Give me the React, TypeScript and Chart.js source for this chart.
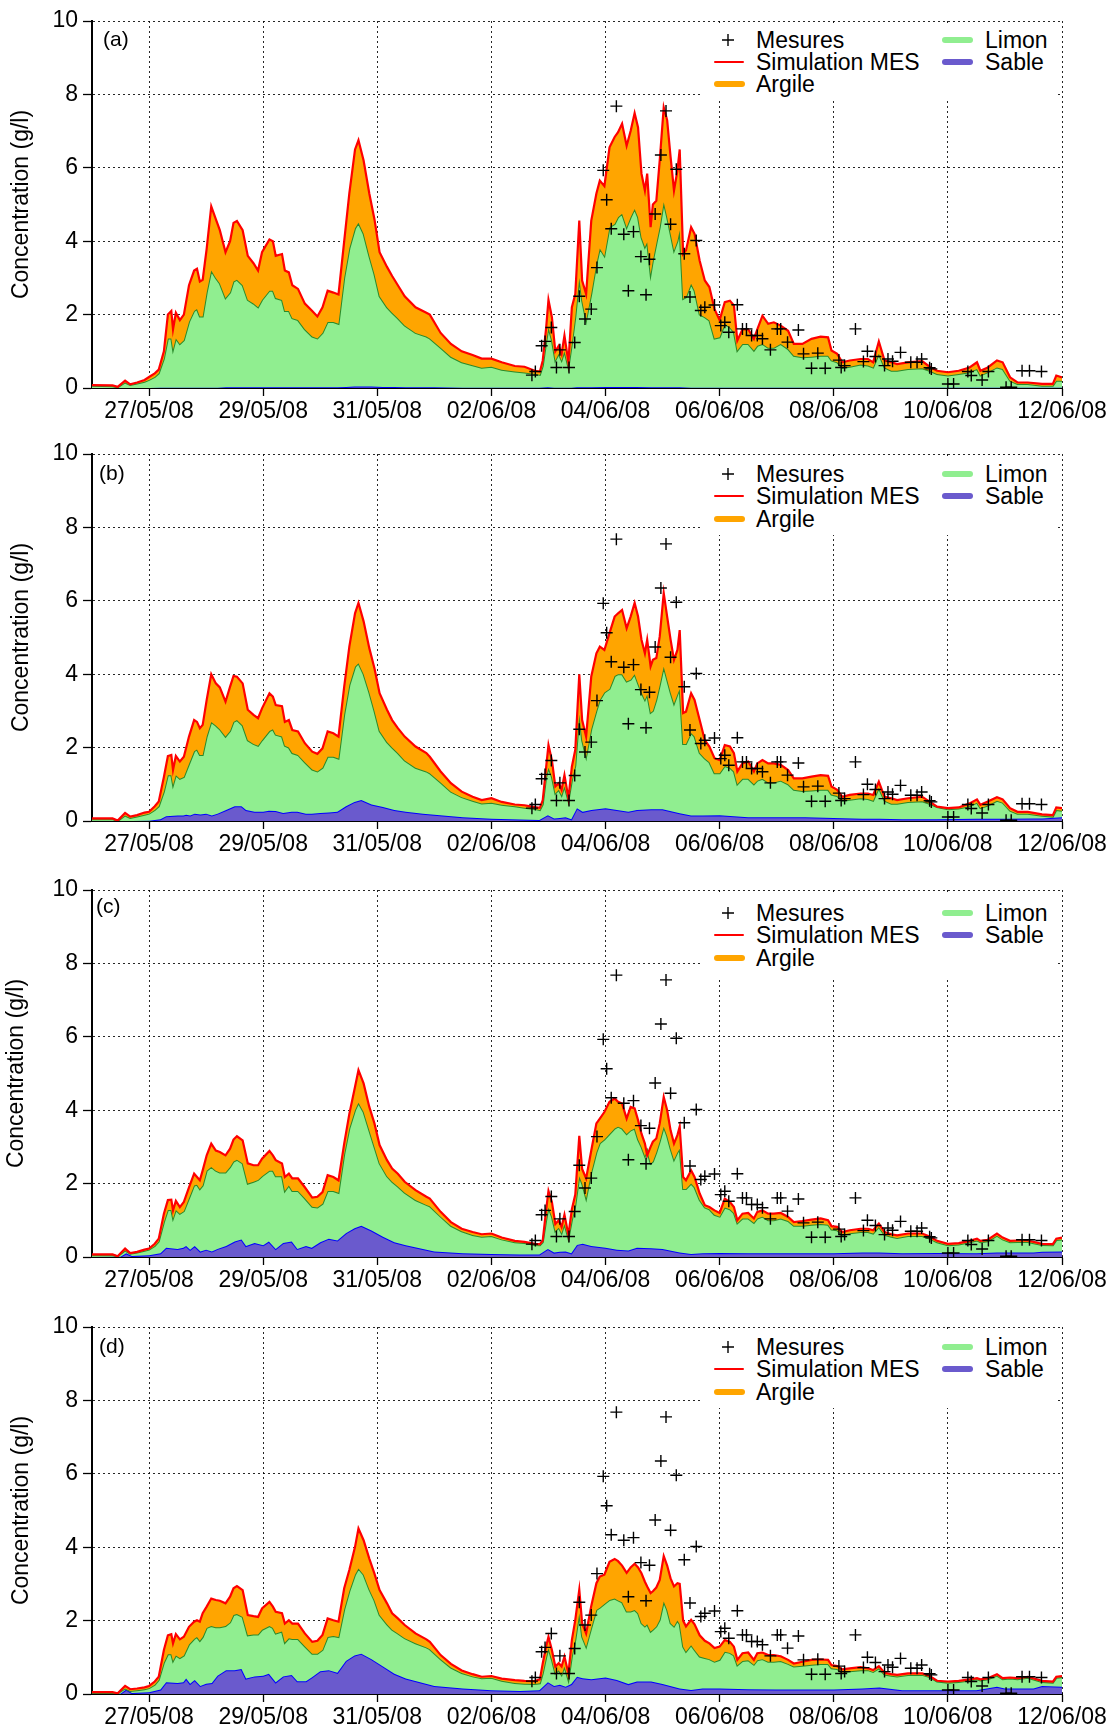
import React, { useEffect, useRef } from "react";
import { Chart, registerables } from "chart.js";

Chart.register(...registerables);

// ---------- axis data ----------
// x values are days since 26/05/08 00:00
const tickDays = [1, 3, 5, 7, 9, 11, 13, 15, 17];
const tickLabels = ["27/05/08", "29/05/08", "31/05/08", "02/06/08", "04/06/08", "06/06/08", "08/06/08", "10/06/08", "12/06/08"];
const yTicks = [0, 2, 4, 6, 8, 10];

// ---------- simulation time grid (days since 26/05/08) ----------
const simDays = [
  0, 0.36, 0.45, 0.58, 0.67, 0.79, 0.92, 1.0, 1.1, 1.17,
  1.26, 1.33, 1.39, 1.42, 1.47, 1.54, 1.61, 1.7, 1.79, 1.84,
  1.89, 1.94, 2.01, 2.09, 2.17, 2.24, 2.34, 2.42, 2.48, 2.54,
  2.64, 2.73, 2.83, 2.91, 2.98, 3.11, 3.17, 3.22, 3.33, 3.38,
  3.45, 3.51, 3.61, 3.73, 3.86, 3.95, 4.04, 4.13, 4.23, 4.32,
  4.42, 4.51, 4.61, 4.67, 4.76, 4.86, 4.95, 5.04, 5.17, 5.26,
  5.36, 5.48, 5.67, 5.86, 5.92, 6.11, 6.29, 6.48, 6.67, 6.83,
  7.0, 7.18, 7.41, 7.58, 7.76, 7.85, 7.9, 7.96, 8.0, 8.06,
  8.12, 8.18, 8.23, 8.28, 8.35, 8.41, 8.47, 8.54, 8.59, 8.66,
  8.75, 8.84, 8.9, 8.98, 9.07, 9.16, 9.22, 9.29, 9.37, 9.44,
  9.51, 9.57, 9.63, 9.69, 9.73, 9.79, 9.83, 9.89, 9.95, 10.02,
  10.08, 10.14, 10.2, 10.26, 10.3, 10.36, 10.41, 10.5, 10.56, 10.65,
  10.74, 10.82, 10.91, 11.0, 11.09, 11.18, 11.25, 11.31, 11.4, 11.5,
  11.6, 11.66, 11.75, 11.85, 11.95, 12.07, 12.2, 12.3, 12.45, 12.61,
  12.77, 12.9, 12.96, 13.06, 13.15, 13.28, 13.47, 13.6, 13.69, 13.79,
  13.89, 14.01, 14.11, 14.3, 14.55, 14.68, 14.81, 15.0, 15.19, 15.38,
  15.51, 15.57, 15.7, 15.86, 15.96, 16.09, 16.22, 16.4, 16.65, 16.84,
  16.9, 17.0,
];

// time grid for the (smoother) sand curves
const sableDays = [
  0, 0.5, 0.6, 0.7, 1.0, 1.2, 1.3, 1.5, 1.6, 1.65,
  1.72, 1.8, 1.9, 2.0, 2.1, 2.2, 2.35, 2.5, 2.62, 2.7,
  2.85, 3.0, 3.1, 3.22, 3.35, 3.5, 3.6, 3.75, 3.85, 4.0,
  4.15, 4.3, 4.45, 4.6, 4.72, 4.9, 5.1, 5.3, 5.5, 5.8,
  6.0, 6.5, 7.0, 7.5, 7.84, 7.99, 8.1, 8.2, 8.3, 8.4,
  8.5, 8.6, 8.75, 9.0, 9.2, 9.4, 9.55, 9.8, 10.0, 10.3,
  10.5, 10.7, 11.0, 11.5, 12.0, 12.5, 13.0, 13.5, 13.8, 14.2,
  14.8, 15.5, 15.86, 16.0, 16.5, 16.65, 17.0,
];

// ---------- measurements (same in all panels) ----------
const mesDays = [
  7.71, 7.77, 7.88, 7.94, 8.05, 8.14, 8.2, 8.36, 8.46, 8.54,
  8.64, 8.75, 8.85, 8.96, 9.02, 9.1, 9.19, 9.32, 9.4, 9.49,
  9.62, 9.71, 9.77, 9.87, 9.97, 10.06, 10.14, 10.24, 10.38, 10.48,
  10.59, 10.67, 10.74, 10.91, 11.02, 11.09, 11.16, 11.31, 11.4, 11.47,
  11.56, 11.66, 11.75, 11.89, 12.01, 12.07, 12.19, 12.38, 12.47, 12.61,
  12.72, 12.85, 13.09, 13.13, 13.19, 13.38, 13.52, 13.59, 13.73, 13.89,
  13.95, 14.03, 14.17, 14.35, 14.46, 14.54, 14.68, 14.71, 15.0, 15.1,
  15.35, 15.41, 15.6, 15.71, 16.02, 16.11, 16.3, 16.43, 16.64,
];
const mesValues = [
  0.35, 0.45, 1.15, 1.27, 1.65, 0.56, 1.04, 0.56, 1.24, 2.5,
  1.88, 2.15, 3.28, 5.93, 5.13, 4.34, 7.68, 4.19, 2.65, 4.26,
  3.58, 2.54, 3.51, 4.74, 6.35, 7.55, 4.46, 5.96, 3.66, 2.48,
  4.02, 2.11, 2.2, 2.26, 1.7, 1.79, 1.52, 2.27, 1.61, 1.61,
  1.43, 1.43, 1.34, 1.04, 1.61, 1.61, 1.25, 1.58, 0.93, 0.54,
  0.95, 0.54, 0.76, 0.56, 0.61, 1.61, 0.72, 1.0, 0.86, 0.61,
  0.79, 0.73, 0.97, 0.7, 0.7, 0.79, 0.55, 0.52, 0.11, 0.11,
  0.45, 0.34, 0.22, 0.45, 0.02, 0.02, 0.47, 0.47, 0.45,
];

// ---------- panel (a) ----------
// total simulated MES (red line, top of Argile band)
const totalA = [
  0.08, 0.07, 0.03, 0.2, 0.1, 0.15, 0.22, 0.3, 0.4, 0.5,
  1.0, 2.0, 2.1, 1.6, 2.05, 1.85, 2.0, 2.8, 3.2, 3.25,
  2.9, 2.95, 3.8, 4.95, 4.6, 4.3, 3.7, 4.0, 4.5, 4.55,
  4.3, 3.6, 3.4, 3.2, 3.7, 4.05, 4.0, 3.6, 3.65, 3.2,
  3.15, 2.8, 2.7, 2.3, 2.1, 1.95, 2.2, 2.65, 2.6, 2.55,
  4.0, 5.3, 6.5, 6.75, 6.2, 5.3, 4.6, 3.7, 3.3, 3.05,
  2.8, 2.5, 2.2, 2.05, 2.0, 1.5, 1.2, 1.0, 0.9, 0.8,
  0.8, 0.7, 0.6, 0.58, 0.47, 0.45, 0.75, 1.65, 2.4, 1.93,
  1.0, 1.15, 0.93, 1.43, 0.7, 2.2, 2.56, 4.56, 2.93, 2.56,
  4.56, 5.3, 5.65, 5.5, 6.56, 6.84, 6.97, 7.2, 6.6, 7.0,
  7.49, 7.1, 5.84, 5.38, 5.84, 4.38, 5.0, 5.1, 6.2, 7.65,
  7.3, 6.3, 5.38, 5.93, 6.5, 3.65, 3.75, 4.38, 4.2, 3.47,
  2.93, 2.75, 2.15, 1.85, 2.34, 2.38, 2.25, 1.29, 1.6, 1.6,
  1.34, 1.6, 1.97, 1.75, 1.79, 1.7, 1.56, 1.2, 1.2, 1.34,
  1.4, 1.38, 1.02, 0.93, 0.7, 0.75, 0.79, 0.79, 0.7, 1.27,
  0.75, 0.7, 0.65, 0.7, 0.73, 0.58, 0.47, 0.43, 0.47, 0.56,
  0.7, 0.47, 0.56, 0.75, 0.7, 0.29, 0.15, 0.15, 0.11, 0.11,
  0.34, 0.29,
];
// upper edge of the Limon band (Sable + Limon)
const limonTopA = [
  0.06, 0.05, 0.02, 0.15, 0.08, 0.12, 0.17, 0.22, 0.3, 0.4,
  0.8, 1.35, 1.35, 1.05, 1.35, 1.2, 1.3, 1.8, 2.1, 2.15,
  1.95, 1.95, 2.6, 3.2, 3.0, 2.85, 2.45, 2.6, 2.9, 2.95,
  2.8, 2.4, 2.3, 2.2, 2.4, 2.65, 2.65, 2.45, 2.4, 2.1,
  2.1, 1.9, 1.85, 1.6, 1.4, 1.35, 1.5, 1.8, 1.8, 1.75,
  3.0, 3.8, 4.35, 4.5, 4.2, 3.6, 3.1, 2.5, 2.2, 2.05,
  1.9, 1.7, 1.5, 1.4, 1.35, 1.1, 0.85, 0.7, 0.62, 0.55,
  0.58, 0.5, 0.45, 0.42, 0.38, 0.36, 0.6, 1.25, 1.65, 1.3,
  0.75, 0.93, 0.75, 1.0, 0.56, 1.2, 1.93, 3.0, 2.38, 1.84,
  2.56, 3.38, 3.8, 3.6, 4.38, 4.47, 4.65, 4.75, 4.38, 4.65,
  4.88, 4.65, 4.1, 3.84, 3.97, 3.1, 3.47, 3.93, 4.38, 5.06,
  4.65, 4.2, 3.75, 4.0, 4.3, 2.43, 2.47, 2.84, 2.65, 2.0,
  1.93, 1.84, 1.35, 1.38, 1.75, 1.65, 1.52, 1.02, 1.2, 1.2,
  1.02, 1.15, 1.2, 1.1, 1.1, 1.2, 1.06, 0.88, 0.84, 0.85,
  0.88, 0.88, 0.75, 0.7, 0.55, 0.58, 0.64, 0.61, 0.56, 0.93,
  0.56, 0.47, 0.47, 0.52, 0.54, 0.47, 0.38, 0.34, 0.38, 0.43,
  0.52, 0.34, 0.43, 0.56, 0.52, 0.2, 0.11, 0.11, 0.06, 0.06,
  0.2, 0.2,
];
const sableA = [
  0, 0, 0, 0, 0, 0.01, 0.01, 0.01, 0.01, 0.01,
  0.01, 0.01, 0.01, 0.01, 0.01, 0.01, 0.02, 0.02, 0.02, 0.02,
  0.02, 0.02, 0.02, 0.02, 0.02, 0.02, 0.02, 0.02, 0.02, 0.02,
  0.02, 0.02, 0.03, 0.04, 0.04, 0.04, 0.03, 0.03, 0.02, 0.02,
  0.02, 0.01, 0.01, 0.01, 0.01, 0.02, 0.01, 0.01, 0.01, 0.01,
  0.02, 0.02, 0.02, 0.03, 0.03, 0.03, 0.03, 0.02, 0.02, 0.02,
  0.01, 0.01, 0.01, 0.01, 0.01, 0.01, 0.01, 0.01, 0.01, 0.01,
  0.01, 0.01, 0.01, 0.01, 0.01, 0.01, 0.01,
];

// ---------- panel (b) ----------
const totalB = [
  0.07, 0.07, 0.01, 0.22, 0.12, 0.16, 0.23, 0.25, 0.4, 0.53,
  1.2, 1.77, 1.8, 1.39, 1.77, 1.62, 1.75, 2.3, 2.75, 2.7,
  2.53, 2.62, 3.3, 4.0, 3.75, 3.64, 3.25, 3.66, 3.95, 3.93,
  3.75, 3.03, 2.89, 2.8, 3.07, 3.48, 3.39, 3.16, 3.13, 2.7,
  2.75, 2.48, 2.44, 2.12, 1.89, 1.83, 1.98, 2.44, 2.39, 2.3,
  3.66, 4.75, 5.66, 5.94, 5.44, 4.71, 4.16, 3.48, 3.03, 2.75,
  2.53, 2.3, 2.03, 1.85, 1.75, 1.35, 1.03, 0.8, 0.66, 0.57,
  0.62, 0.52, 0.45, 0.43, 0.38, 0.36, 0.57, 1.48, 2.07, 1.66,
  0.94, 1.03, 0.85, 1.25, 0.62, 1.48, 1.94, 4.0, 2.75, 2.3,
  3.94, 4.57, 4.75, 4.66, 5.12, 5.57, 5.66, 5.75, 5.25, 5.57,
  5.94, 5.57, 4.94, 4.57, 4.94, 4.21, 4.39, 4.44, 5.03, 6.21,
  5.57, 4.94, 4.39, 4.66, 5.2, 2.94, 2.98, 3.48, 3.3, 2.75,
  2.2, 2.03, 1.71, 1.66, 2.07, 2.03, 1.85, 1.35, 1.57, 1.62,
  1.35, 1.57, 1.66, 1.57, 1.57, 1.53, 1.39, 1.16, 1.16, 1.21,
  1.25, 1.23, 0.94, 0.85, 0.66, 0.71, 0.75, 0.75, 0.71, 1.07,
  0.66, 0.62, 0.57, 0.62, 0.66, 0.53, 0.39, 0.35, 0.37, 0.48,
  0.59, 0.44, 0.53, 0.65, 0.59, 0.35, 0.25, 0.25, 0.18, 0.16,
  0.37, 0.35,
];
const limonTopB = [
  0.05, 0.05, 0.0, 0.15, 0.08, 0.12, 0.17, 0.2, 0.3, 0.4,
  0.8, 1.25, 1.25, 0.98, 1.25, 1.15, 1.2, 1.55, 1.9, 1.95,
  1.8, 1.8, 2.3, 2.7, 2.6, 2.5, 2.3, 2.45, 2.7, 2.75,
  2.6, 2.2, 2.1, 2.05, 2.2, 2.45, 2.5, 2.35, 2.3, 2.05,
  2.0, 1.85, 1.8, 1.6, 1.4, 1.35, 1.45, 1.75, 1.75, 1.7,
  2.9, 3.7, 4.2, 4.3, 4.0, 3.5, 3.0, 2.45, 2.15, 2.0,
  1.85, 1.65, 1.45, 1.35, 1.3, 1.05, 0.8, 0.65, 0.55, 0.48,
  0.5, 0.44, 0.4, 0.36, 0.33, 0.3, 0.45, 1.2, 1.45, 1.2,
  0.75, 0.85, 0.7, 0.95, 0.55, 1.1, 1.5, 2.9, 2.2, 1.75,
  2.5, 3.0, 3.3, 3.5, 3.6, 3.95, 4.0, 4.0, 3.8, 3.85,
  4.0, 3.75, 3.5, 3.3, 3.45, 2.95, 3.0, 3.3, 3.7, 4.2,
  3.85, 3.5, 3.2, 3.45, 3.6, 2.1, 2.1, 2.4, 2.3, 1.85,
  1.7, 1.6, 1.3, 1.3, 1.5, 1.45, 1.35, 1.0, 1.15, 1.15,
  1.0, 1.1, 1.15, 1.05, 1.05, 1.1, 1.0, 0.85, 0.82, 0.83,
  0.85, 0.85, 0.72, 0.68, 0.55, 0.58, 0.62, 0.6, 0.55, 0.9,
  0.55, 0.47, 0.47, 0.52, 0.54, 0.47, 0.38, 0.32, 0.34, 0.4,
  0.5, 0.35, 0.42, 0.55, 0.5, 0.28, 0.2, 0.2, 0.14, 0.12,
  0.3, 0.28,
];
const sableB = [
  0, 0, 0, 0, 0.01, 0.05, 0.13, 0.15, 0.15, 0.17,
  0.15, 0.2, 0.18, 0.2, 0.15, 0.2, 0.3, 0.4, 0.4, 0.3,
  0.25, 0.25, 0.28, 0.27, 0.22, 0.25, 0.25, 0.2, 0.2, 0.22,
  0.23, 0.25, 0.4, 0.52, 0.57, 0.45, 0.38, 0.3, 0.25, 0.2,
  0.17, 0.1, 0.06, 0.04, 0.03, 0.16, 0.07, 0.08, 0.1, 0.05,
  0.35, 0.25, 0.3, 0.35, 0.3, 0.25, 0.3, 0.32, 0.32, 0.21,
  0.15, 0.15, 0.16, 0.1, 0.1, 0.1, 0.08, 0.06, 0.06, 0.05,
  0.05, 0.06, 0.06, 0.06, 0.07, 0.07, 0.1,
];

// ---------- panel (c) ----------
const totalC = [
  0.07, 0.07, 0.02, 0.23, 0.11, 0.14, 0.2, 0.23, 0.36, 0.5,
  1.18, 1.55, 1.56, 1.27, 1.53, 1.36, 1.5, 1.9, 2.27, 2.18,
  2.09, 2.36, 2.77, 3.09, 2.9, 2.86, 2.77, 2.95, 3.2, 3.29,
  3.18, 2.55, 2.5, 2.5, 2.68, 2.89, 2.77, 2.64, 2.55, 2.18,
  2.27, 2.14, 2.14, 1.9, 1.62, 1.64, 1.77, 2.23, 2.18, 2.09,
  3.09, 3.9, 4.64, 5.09, 4.73, 4.09, 3.64, 3.05, 2.64, 2.41,
  2.27, 2.05, 1.82, 1.64, 1.59, 1.23, 0.95, 0.77, 0.68, 0.62,
  0.64, 0.53, 0.44, 0.41, 0.36, 0.35, 0.45, 1.3, 1.8, 1.5,
  0.9, 1.0, 0.82, 1.15, 0.6, 1.3, 1.7, 3.3, 2.4, 2.14,
  2.9, 3.64, 3.77, 3.95, 4.23, 4.32, 4.23, 4.18, 3.77, 4.09,
  4.05, 3.73, 3.36, 3.09, 2.77, 3.0, 3.14, 3.23, 3.64, 4.36,
  4.0, 3.45, 3.09, 3.32, 3.55, 2.18, 2.09, 2.36, 2.18, 1.73,
  1.41, 1.36, 1.27, 1.2, 1.59, 1.5, 1.36, 1.0, 1.18, 1.2,
  1.05, 1.23, 1.27, 1.18, 1.18, 1.2, 1.09, 0.95, 0.98, 1.02,
  1.05, 1.0, 0.84, 0.82, 0.68, 0.73, 0.77, 0.77, 0.73, 0.91,
  0.68, 0.62, 0.59, 0.64, 0.64, 0.56, 0.44, 0.36, 0.38, 0.44,
  0.5, 0.44, 0.47, 0.64, 0.53, 0.44, 0.45, 0.45, 0.36, 0.35,
  0.5, 0.53,
];
const limonTopC = [
  0.05, 0.05, 0.02, 0.18, 0.09, 0.12, 0.17, 0.2, 0.3, 0.42,
  0.95, 1.28, 1.28, 1.05, 1.28, 1.18, 1.25, 1.6, 1.95, 1.97,
  1.85, 1.95, 2.35, 2.45, 2.35, 2.3, 2.3, 2.45, 2.6, 2.65,
  2.55, 2.0, 2.05, 2.1, 2.2, 2.35, 2.35, 2.2, 2.2, 1.8,
  1.95, 1.8, 1.8, 1.6, 1.37, 1.35, 1.45, 1.8, 1.8, 1.75,
  2.8, 3.5, 4.0, 4.2, 3.95, 3.45, 3.0, 2.55, 2.2, 2.05,
  1.92, 1.75, 1.55, 1.42, 1.38, 1.1, 0.85, 0.7, 0.6, 0.55,
  0.57, 0.48, 0.4, 0.38, 0.33, 0.32, 0.4, 1.0, 1.35, 1.1,
  0.7, 0.8, 0.65, 0.9, 0.5, 1.0, 1.4, 2.2, 2.0, 1.6,
  2.3, 2.85, 3.1, 3.2, 3.35, 3.5, 3.55, 3.5, 3.35, 3.45,
  3.5, 3.2, 3.0, 2.75, 2.9, 2.55, 2.6, 2.85, 3.15, 3.55,
  3.3, 2.95, 2.65, 2.85, 2.95, 1.85, 1.85, 2.0, 1.9, 1.55,
  1.35, 1.3, 1.15, 1.1, 1.35, 1.3, 1.2, 0.92, 1.05, 1.05,
  0.93, 1.05, 1.1, 1.0, 1.0, 1.05, 0.98, 0.85, 0.85, 0.88,
  0.9, 0.88, 0.75, 0.73, 0.6, 0.65, 0.68, 0.68, 0.64, 0.82,
  0.6, 0.55, 0.52, 0.57, 0.57, 0.5, 0.4, 0.32, 0.34, 0.4,
  0.45, 0.4, 0.43, 0.58, 0.48, 0.4, 0.41, 0.41, 0.33, 0.32,
  0.46, 0.48,
];
const sableC = [
  0, 0.01, 0.1, 0.03, 0.05, 0.1, 0.25, 0.22, 0.25, 0.3,
  0.2, 0.3, 0.15, 0.2, 0.15, 0.22, 0.3, 0.42, 0.48, 0.3,
  0.38, 0.32, 0.42, 0.22, 0.38, 0.42, 0.22, 0.3, 0.25, 0.4,
  0.5, 0.45, 0.65, 0.78, 0.85, 0.72, 0.55, 0.4, 0.32, 0.22,
  0.15, 0.1, 0.08, 0.07, 0.07, 0.22, 0.12, 0.14, 0.15, 0.1,
  0.33, 0.36, 0.3, 0.25, 0.2, 0.18, 0.25, 0.24, 0.22, 0.12,
  0.08, 0.1, 0.11, 0.1, 0.1, 0.1, 0.1, 0.12, 0.12, 0.1,
  0.11, 0.1, 0.12, 0.12, 0.12, 0.14, 0.15,
];

// ---------- panel (d) ----------
const totalD = [
  0.05, 0.05, 0.02, 0.22, 0.13, 0.15, 0.18, 0.22, 0.34, 0.47,
  1.2, 1.6, 1.63, 1.38, 1.63, 1.49, 1.56, 1.83, 1.97, 2.01,
  1.97, 2.2, 2.38, 2.6, 2.56, 2.54, 2.47, 2.65, 2.88, 2.94,
  2.83, 2.15, 2.12, 2.1, 2.33, 2.51, 2.38, 2.24, 2.2, 1.92,
  2.01, 1.92, 1.92, 1.65, 1.42, 1.45, 1.61, 2.06, 2.01, 1.97,
  2.88, 3.38, 4.01, 4.51, 4.19, 3.69, 3.28, 2.83, 2.47, 2.2,
  2.06, 1.88, 1.65, 1.49, 1.42, 1.06, 0.82, 0.64, 0.54, 0.47,
  0.49, 0.42, 0.38, 0.36, 0.35, 0.4, 0.84, 1.3, 1.56, 1.2,
  0.75, 0.84, 0.75, 1.02, 0.56, 1.47, 2.02, 2.84, 1.93, 1.65,
  2.4, 3.02, 3.2, 3.25, 3.6, 3.68, 3.62, 3.5, 3.3, 3.45,
  3.55, 3.45, 3.29, 3.06, 2.93, 2.75, 2.8, 2.9, 3.11, 3.76,
  3.5, 3.15, 2.93, 3.02, 3.0, 2.0, 1.84, 2.02, 1.9, 1.6,
  1.45, 1.38, 1.25, 1.29, 1.47, 1.42, 1.29, 0.93, 1.11, 1.13,
  0.93, 1.11, 1.13, 1.06, 1.06, 1.03, 0.93, 0.83, 0.88, 0.93,
  0.94, 0.93, 0.79, 0.76, 0.67, 0.7, 0.73, 0.7, 0.65, 0.76,
  0.58, 0.54, 0.52, 0.56, 0.56, 0.49, 0.36, 0.34, 0.36, 0.4,
  0.43, 0.4, 0.43, 0.54, 0.43, 0.45, 0.43, 0.47, 0.36, 0.34,
  0.47, 0.49,
];
const limonTopD = [
  0.03, 0.03, 0.02, 0.15, 0.08, 0.1, 0.13, 0.16, 0.25, 0.38,
  0.85, 1.08, 1.08, 0.9, 1.05, 0.98, 1.05, 1.35, 1.5, 1.55,
  1.45, 1.55, 1.8, 1.85, 1.82, 1.82, 1.85, 1.95, 2.15, 2.18,
  2.1, 1.6, 1.62, 1.62, 1.75, 1.85, 1.8, 1.65, 1.7, 1.4,
  1.52, 1.5, 1.5, 1.3, 1.1, 1.1, 1.2, 1.55, 1.58, 1.55,
  2.3, 2.8, 3.25, 3.42, 3.25, 2.85, 2.55, 2.15, 1.9, 1.75,
  1.65, 1.52, 1.38, 1.27, 1.22, 0.95, 0.72, 0.57, 0.48, 0.43,
  0.44, 0.36, 0.3, 0.28, 0.27, 0.29, 0.56, 1.0, 1.25, 0.93,
  0.56, 0.65, 0.52, 0.75, 0.38, 1.02, 1.47, 2.2, 1.56, 1.29,
  1.8, 2.29, 2.35, 2.45, 2.56, 2.6, 2.55, 2.5, 2.25, 2.25,
  2.29, 2.2, 1.93, 1.84, 1.9, 1.7, 1.75, 1.84, 2.02, 2.52,
  2.29, 1.93, 1.84, 2.0, 1.9, 1.29, 1.15, 1.33, 1.2, 1.02,
  0.98, 0.95, 0.88, 0.93, 1.15, 1.12, 1.05, 0.78, 0.9, 0.92,
  0.8, 0.92, 0.95, 0.88, 0.88, 0.9, 0.82, 0.75, 0.77, 0.8,
  0.82, 0.82, 0.7, 0.68, 0.58, 0.62, 0.65, 0.65, 0.6, 0.7,
  0.53, 0.5, 0.48, 0.52, 0.52, 0.46, 0.34, 0.31, 0.33, 0.37,
  0.4, 0.37, 0.4, 0.5, 0.4, 0.42, 0.4, 0.44, 0.33, 0.31,
  0.44, 0.46,
];
const sableD = [
  0, 0.01, 0.12, 0.03, 0.05, 0.12, 0.32, 0.3, 0.32, 0.42,
  0.28, 0.38, 0.22, 0.28, 0.3, 0.5, 0.65, 0.65, 0.68, 0.42,
  0.48, 0.5, 0.55, 0.32, 0.48, 0.52, 0.35, 0.35, 0.45, 0.62,
  0.65, 0.58, 0.9, 1.05, 1.1, 0.95, 0.75, 0.55, 0.42, 0.3,
  0.22, 0.15, 0.1, 0.08, 0.1, 0.32, 0.22, 0.25, 0.2, 0.27,
  0.47, 0.43, 0.4, 0.45, 0.38, 0.27, 0.34, 0.34, 0.27, 0.15,
  0.11, 0.15, 0.15, 0.13, 0.12, 0.12, 0.12, 0.15, 0.18, 0.1,
  0.1, 0.1, 0.2, 0.15, 0.15, 0.22, 0.2,
];

// ---------- styling ----------
const FONT = "'Liberation Sans', Arial, Helvetica, sans-serif";
const C_RED = "#ff0000";
const C_ORANGE = "#ffa500";
const C_LGREEN = "#90ee90";
const C_DGREEN = "#2a8a2a";
const C_SLATE = "#6a5acd";
const C_BLUE = "#0000ff";
const GRID = "rgba(0,0,0,0.85)";

const CANVAS_W = 1109;
const CANVAS_H = 425;
const PLOT_TOP = 21;

type PanelDef = {
  label: string;
  top: number;
  total: number[];
  limonTop: number[];
  sable: number[];
  legendDy: number;
  boxH: number;
  labelX: number;
  labelDy: number;
  titlePad: number;
};

const panels: PanelDef[] = [
  { label: "(a)", top: 0, total: totalA, limonTop: limonTopA, sable: sableA, legendDy: 0, boxH: 78, labelX: 103, labelDy: 18, titlePad: 8 },
  { label: "(b)", top: 433, total: totalB, limonTop: limonTopB, sable: sableB, legendDy: 1.5, boxH: 79, labelX: 99, labelDy: 18.5, titlePad: 8 },
  { label: "(c)", top: 869, total: totalC, limonTop: limonTopC, sable: sableC, legendDy: 4.5, boxH: 86, labelX: 96, labelDy: 16, titlePad: 3 },
  { label: "(d)", top: 1306, total: totalD, limonTop: limonTopD, sable: sableD, legendDy: 1.5, boxH: 79, labelX: 99, labelDy: 19, titlePad: 8 },
];

const toXY = (xs: number[], ys: number[]) => xs.map((x, i) => ({ x, y: ys[i] }));

function ChartPanel({ p }: { p: PanelDef }) {
  const ref = useRef<HTMLCanvasElement | null>(null);
  useEffect(() => {
    if (!ref.current) return;
    const gridCommon = {
      color: GRID,
      lineWidth: 1,
      tickColor: "#000",
      tickWidth: 1.3,
      tickBorderDash: [],
    };
    const chart = new Chart(ref.current, {
      type: "line",
      data: {
        datasets: [
          {
            label: "Sable",
            data: toXY(sableDays, p.sable),
            borderColor: C_BLUE,
            backgroundColor: C_SLATE,
            borderWidth: 2,
            fill: "origin",
            pointRadius: 0,
            order: 3,
          },
          {
            label: "Limon",
            data: toXY(simDays, p.limonTop),
            borderColor: C_DGREEN,
            backgroundColor: C_LGREEN,
            borderWidth: 2,
            fill: "-1",
            pointRadius: 0,
            order: 2,
          },
          {
            label: "Simulation MES",
            data: toXY(simDays, p.total),
            borderColor: C_RED,
            backgroundColor: C_ORANGE,
            borderWidth: 2.2,
            fill: "-1",
            pointRadius: 0,
            order: 1,
          },
          {
            label: "Mesures",
            data: toXY(mesDays, mesValues),
            showLine: false,
            fill: false,
            pointStyle: "cross",
            pointRadius: 6,
            pointBorderColor: "#000",
            pointBorderWidth: 1.4,
            borderColor: "#000",
            order: 0,
          },
        ],
      },
      options: {
        responsive: false,
        animation: false,
        events: [],
        layout: { padding: { top: PLOT_TOP, right: 47, bottom: 0, left: 0 } },
        elements: { line: { tension: 0 } },
        plugins: {
          legend: { display: false },
          tooltip: { enabled: false },
        },
        scales: {
          x: {
            type: "linear",
            min: 0,
            max: 17,
            afterBuildTicks: (s: any) => {
              s.ticks = tickDays.map((v) => ({ value: v }));
            },
            afterFit: (s: any) => {
              s.height = 37;
            },
            ticks: {
              autoSkip: false,
              maxRotation: 0,
              padding: 2,
              color: "#000",
              font: { family: FONT, size: 23 },
              callback: (_v: any, i: number) => tickLabels[i],
            },
            grid: { ...gridCommon, tickLength: 8 },
            border: { display: true, color: "#000", width: 2, dash: [2, 3] },
          },
          y: {
            min: 0,
            max: 10,
            afterBuildTicks: (s: any) => {
              s.ticks = yTicks.map((v) => ({ value: v }));
            },
            afterFit: (s: any) => {
              s.width = 92;
            },
            ticks: {
              padding: 5,
              color: "#000",
              font: { family: FONT, size: 23 },
            },
            grid: { ...gridCommon, tickLength: 9 },
            border: { display: true, color: "#000", width: 2, dash: [2, 3] },
            title: {
              display: true,
              text: "Concentration (g/l)",
              color: "#000",
              font: { family: FONT, size: 23 },
              padding: { top: p.titlePad, bottom: 0 },
            },
          },
        },
      } as any,
    });
    return () => chart.destroy();
  }, [p]);

  const plotTop = p.top + PLOT_TOP;
  const rows = [18.7, 40.5, 63].map((r) => plotTop + r + p.legendDy);
  const textStyle = (x: number, yc: number): React.CSSProperties => ({
    position: "absolute",
    left: x,
    top: yc - 12,
    fontFamily: FONT,
    fontSize: 23,
    lineHeight: "24px",
    whiteSpace: "nowrap",
    color: "#000",
  });
  const bar = (x1: number, x2: number, yc: number, h: number, color: string): React.CSSProperties => ({
    position: "absolute",
    left: x1,
    top: yc - h / 2,
    width: x2 - x1,
    height: h,
    background: color,
    borderRadius: h / 2,
  });

  return (
    <>
      <canvas
        ref={ref}
        width={CANVAS_W}
        height={CANVAS_H}
        style={{ position: "absolute", left: 0, top: p.top, width: CANVAS_W, height: CANVAS_H }}
      />
      <div style={{ position: "absolute", left: 700, top: plotTop + 1.5, width: 358, height: p.boxH, background: "#fff" }} />
      <svg style={{ position: "absolute", left: 728 - 7, top: rows[0] - 7 }} width={14} height={14}>
        <path d="M7 1 V13 M1 7 H13" stroke="#000" strokeWidth={1.4} fill="none" />
      </svg>
      <div style={textStyle(756, rows[0])}>Mesures</div>
      <div style={bar(714, 744, rows[1], 2, C_RED)} />
      <div style={textStyle(756, rows[1])}>Simulation MES</div>
      <div style={bar(714, 745, rows[2], 6, C_ORANGE)} />
      <div style={textStyle(756, rows[2])}>Argile</div>
      <div style={bar(942, 973, rows[0], 6, C_LGREEN)} />
      <div style={textStyle(985, rows[0])}>Limon</div>
      <div style={bar(942, 973, rows[1], 6, C_SLATE)} />
      <div style={textStyle(985, rows[1])}>Sable</div>
      <div
        style={{
          position: "absolute",
          left: p.labelX,
          top: plotTop + p.labelDy - 12,
          fontFamily: FONT,
          fontSize: 21,
          lineHeight: "24px",
          color: "#000",
        }}
      >
        {p.label}
      </div>
    </>
  );
}

export default function App() {
  useEffect(() => {
    document.body.style.margin = "0";
  }, []);
  return (
    <div style={{ position: "relative", width: 1109, height: 1731, overflow: "hidden", background: "#fff" }}>
      {panels.map((p) => (
        <ChartPanel key={p.label} p={p} />
      ))}
    </div>
  );
}
